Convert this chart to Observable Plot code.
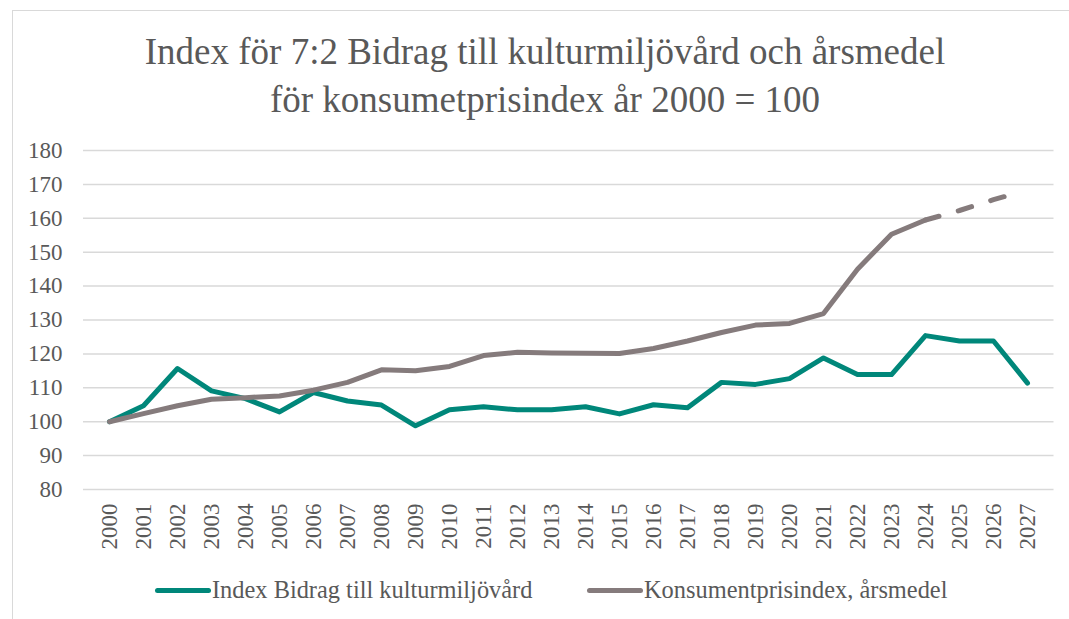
<!DOCTYPE html>
<html><head><meta charset="utf-8">
<script src="https://cdn.jsdelivr.net/npm/d3@7"></script>
<script src="https://cdn.jsdelivr.net/npm/@observablehq/plot@0.6"></script>
<style>
body{margin:0;background:#fff;font-family:"Liberation Serif",serif;color:#595959;}
#wrap{position:relative;width:1069px;height:619px;overflow:hidden;background:#fff;}
#frame{position:absolute;left:12px;top:10px;width:1100px;height:700px;border:1.5px solid #d9d9d9;box-sizing:border-box;}
#title{position:absolute;left:0;width:1090px;top:28px;text-align:center;font-family:"Liberation Serif",serif;font-size:37px;line-height:48px;white-space:nowrap;}
#chart{position:absolute;left:0;top:130px;}
.leg{position:absolute;top:577px;height:26px;display:flex;align-items:center;font-family:"Liberation Serif",serif;font-size:24.4px;white-space:nowrap;}
.sw{display:inline-block;width:56px;height:5px;border-radius:3px;margin-right:1px;}
</style></head>
<body>
<div id="wrap">
<div id="frame"></div>
<div id="title">Index för 7:2 Bidrag till kulturmiljövård och årsmedel<br>för konsumetprisindex år 2000 = 100</div>
<div id="chart"></div>
<div class="leg" style="left:155px"><span class="sw" style="background:#00877a"></span>Index Bidrag till kulturmiljövård</div>
<div class="leg" style="left:587px"><span class="sw" style="background:#857b7c"></span>Konsumentprisindex, årsmedel</div>
</div>
<script>
const years = [2000,2001,2002,2003,2004,2005,2006,2007,2008,2009,2010,2011,2012,2013,2014,2015,2016,2017,2018,2019,2020,2021,2022,2023,2024,2025,2026,2027];
const bidrag = [100,104.7,115.7,109.1,106.8,102.9,108.6,106.1,104.9,98.8,103.5,104.4,103.5,103.5,104.4,102.3,105.0,104.1,111.6,111.0,112.7,118.8,113.9,113.9,125.4,123.8,123.8,111.4];
const kpi = [100,102.4,104.7,106.6,107.1,107.6,109.3,111.6,115.3,115.0,116.3,119.5,120.5,120.3,120.2,120.1,121.6,123.8,126.3,128.5,129.0,131.9,145.0,155.3,159.5,162.3,165.5,168.3];
const yTicks = [80,90,100,110,120,130,140,150,160,170,180];
const forecastFrom = 2024;

const green = "#00877a", gray = "#857b7c";
const table = years.map((year,i)=>({year, bidrag:bidrag[i], kpi:kpi[i]}));

const chart = Plot.plot({
  width:1069, height:430,
  marginTop:20, marginBottom:71, marginLeft:83, marginRight:15.5,
  style:{fontFamily:"Liberation Serif", fontSize:"23px", color:"#595959", background:"transparent", overflow:"visible"},
  x:{type:"point", domain:years, padding:0.5, label:null},
  y:{domain:[80,180], label:null},
  marks:[
    Plot.gridY(yTicks, {stroke:"#d9d9d9", strokeOpacity:1, strokeWidth:1.5}),
    Plot.axisY(yTicks, {tickSize:0, tickPadding:21, fontSize:23, fontFamily:"Liberation Serif", label:null}),
    Plot.axisX(years, {tickSize:0, tickPadding:14, tickRotate:-90, fontSize:23, fontFamily:"Liberation Serif", tickFormat:d=>String(d), label:null}),
    Plot.line(table, {x:"year", y:"bidrag", stroke:green, strokeWidth:5, strokeLinecap:"round", strokeLinejoin:"round"}),
    Plot.line(table.filter(d=>d.year<=forecastFrom), {x:"year", y:"kpi", stroke:gray, strokeWidth:5, strokeLinecap:"round", strokeLinejoin:"round"}),
    Plot.line(table.filter(d=>d.year>=forecastFrom), {x:"year", y:"kpi", stroke:gray, strokeWidth:5, strokeLinecap:"round", strokeLinejoin:"round", strokeDasharray:"14,20,14,20,14,60"})
  ]
});
document.getElementById("chart").appendChild(chart);
</script>
</body></html>
